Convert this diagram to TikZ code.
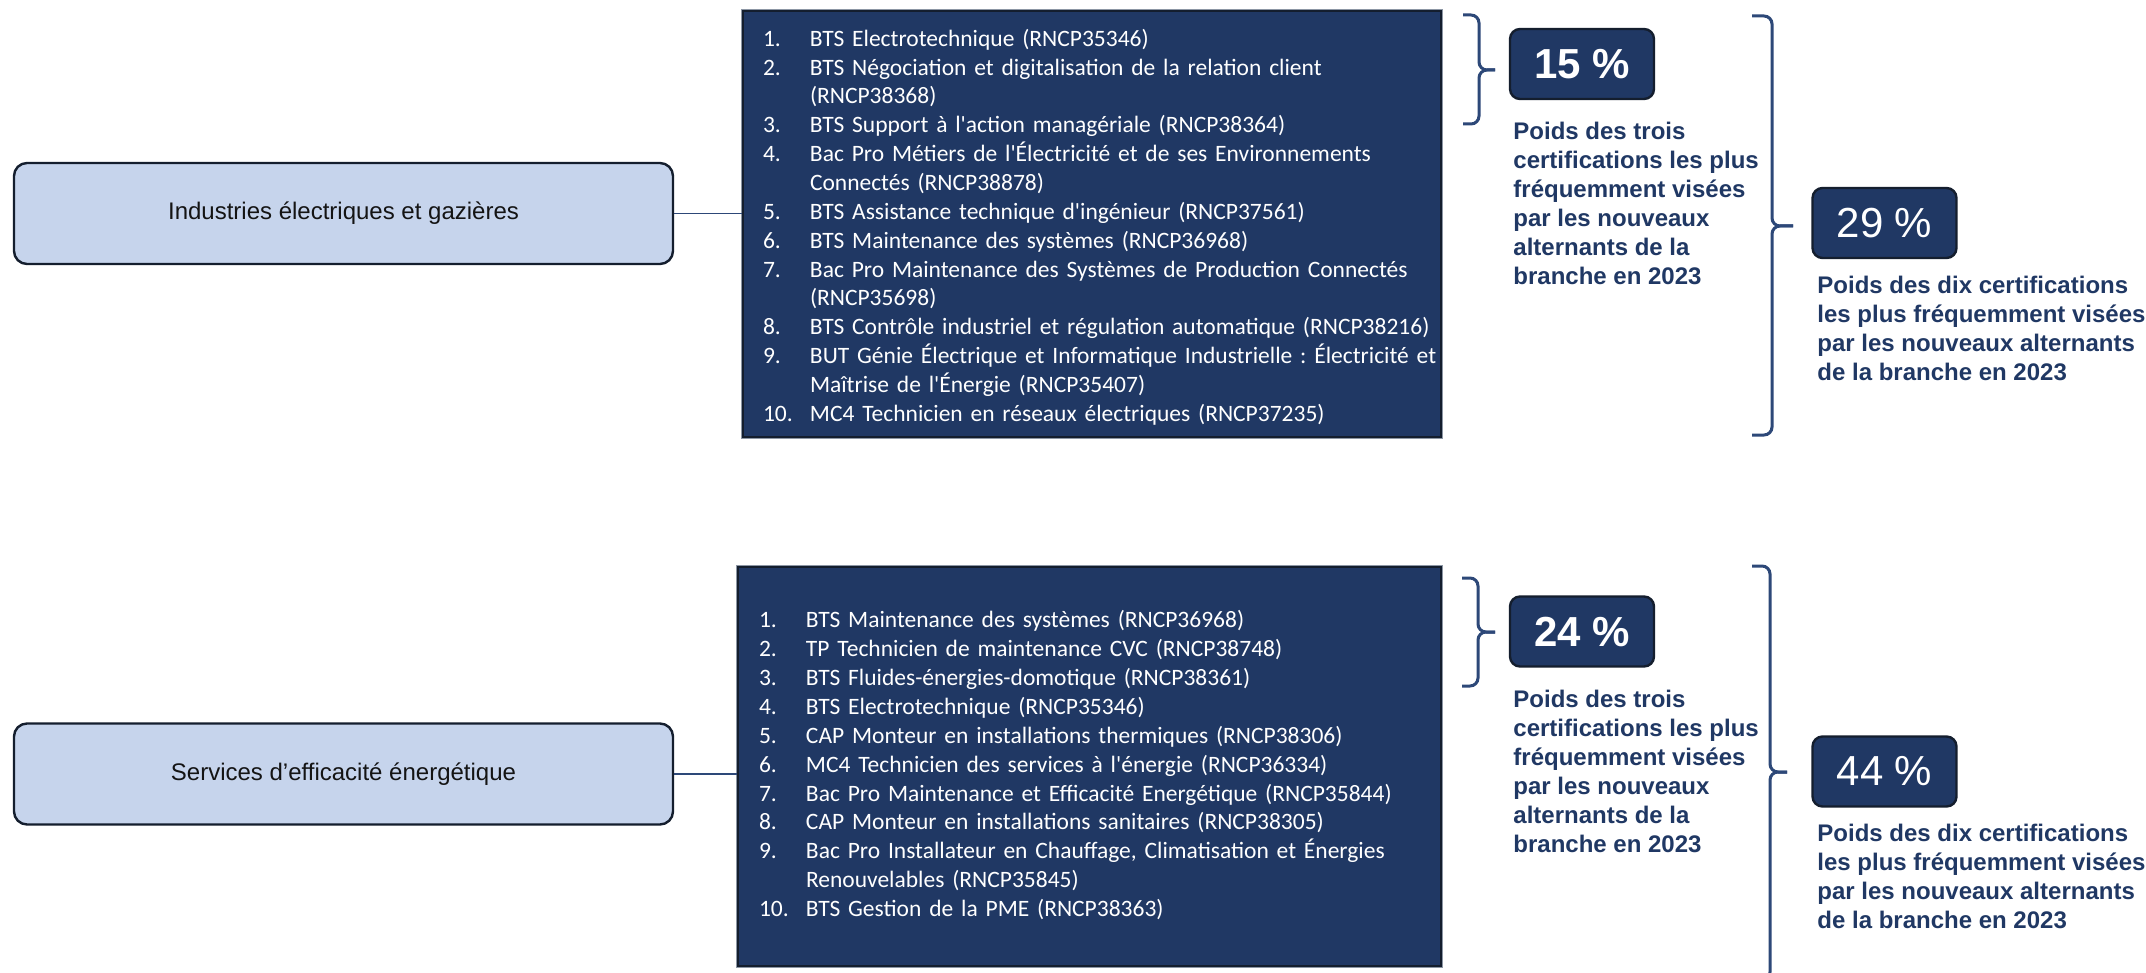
\documentclass[tikz,border=0pt]{standalone}
\usepackage{fontspec}
\setmainfont{Liberation Sans}
\newfontfamily\listfont{Carlito}
\usetikzlibrary{positioning}
\usepackage{xcolor}
\definecolor{enavy}{HTML}{203864}
\definecolor{elight}{HTML}{C6D4EC}
\definecolor{edark}{HTML}{141E2E}
\definecolor{ebrace}{HTML}{2D4878}
\definecolor{etext}{HTML}{141414}
\definecolor{eframe}{HTML}{8C96A4}
\newcommand{\apos}{\textquotesingle}
\frenchspacing

\tikzset{
  sector/.style={rectangle, rounded corners=6.5pt, fill=elight, draw=edark,
    line width=1.2pt, minimum width=329.5pt, minimum height=50.5pt,
    text=etext, font=\fontsize{12}{14}\selectfont},
  certlist/.style={rectangle, fill=enavy, draw=edark, line width=1pt,
    text=white, align=left, font=\listfont\fontsize{11.75}{14.43}\selectfont},
  pctbox/.style={rectangle, rounded corners=5pt, fill=enavy, draw=edark,
    line width=1.2pt, minimum width=72pt, minimum height=35pt, text=white},
  weight/.style={anchor=north west, inner sep=0pt, align=left, text=enavy,
    font=\bfseries\fontsize{12}{14.5}\selectfont},
  link/.style={draw=ebrace, line width=0.6pt},
  bracket/.style={draw=ebrace, line width=1.5pt, rounded corners=4pt},
}

\begin{document}
\begin{tikzpicture}[x=0.5pt, y=-0.5pt]
  \useasboundingbox[fill=white] (0,0) rectangle (2146,973);

  % sectors
  \node[sector] (indus) at (343.5,213.5) {Industries électriques et gazières};
  \node[sector] (serv) at (343.5,774) {Services d’efficacité énergétique};

  % top ten lists
  \draw[eframe, line width=0.5pt] (741.5,9.5) rectangle (1442.5,438.5);
  \node[certlist, minimum width=349pt, minimum height=213pt, inner xsep=10pt,
        text width=329pt] (list1) at (1092,224) {%
    \begin{tabular}{@{}p{23.5pt}@{}l@{}}
    1. & BTS Electrotechnique (RNCP35346)\\
    2. & BTS Négociation et digitalisation de la relation client\\
       & (RNCP38368)\\
    3. & BTS Support à l\apos action managériale (RNCP38364)\\
    4. & Bac Pro Métiers de l\apos Électricité et de ses Environnements\\
       & Connectés (RNCP38878)\\
    5. & BTS Assistance technique d\apos ingénieur (RNCP37561)\\
    6. & BTS Maintenance des systèmes (RNCP36968)\\
    7. & Bac Pro Maintenance des Systèmes de Production Connectés\\
       & (RNCP35698)\\
    8. & BTS Contrôle industriel et régulation automatique (RNCP38216)\\
    9. & BUT Génie Électrique et Informatique Industrielle : Électricité et\\
       & Maîtrise de l\apos Énergie (RNCP35407)\\
    10. & MC4 Technicien en réseaux électriques (RNCP37235)\\[-4pt]
    \end{tabular}};
  \draw[eframe, line width=0.5pt] (736.5,565.5) rectangle (1442.5,967.5);
  \node[certlist, minimum width=351.5pt, minimum height=199.5pt, inner xsep=10.5pt,
        text width=330.5pt] (list2) at (1089.5,766.5) {%
    \begin{tabular}{@{}p{23.5pt}@{}l@{}}
    1. & BTS Maintenance des systèmes (RNCP36968)\\
    2. & TP Technicien de maintenance CVC (RNCP38748)\\
    3. & BTS Fluides-énergies-domotique (RNCP38361)\\
    4. & BTS Electrotechnique (RNCP35346)\\
    5. & CAP Monteur en installations thermiques (RNCP38306)\\
    6. & MC4 Technicien des services à l\apos énergie (RNCP36334)\\
    7. & Bac Pro Maintenance et Efficacité Energétique (RNCP35844)\\
    8. & CAP Monteur en installations sanitaires (RNCP38305)\\
    9. & Bac Pro Installateur en Chauffage, Climatisation et Énergies\\
       & Renouvelables (RNCP35845)\\
    10. & BTS Gestion de la PME (RNCP38363)
    \end{tabular}};

  \draw[link] (indus.east) -- (indus.east -| list1.west);
  \draw[link] (serv.east) -- (serv.east -| list2.west);

  % weights, top
  \node[pctbox, font=\bfseries\fontsize{21}{24}\selectfont] (pct15) at (1582,64) {15 \%};
  \node[weight] (txt15) at (1513,122) {Poids des trois\\certifications les plus\\fréquemment visées\\par les nouveaux\\alternants de la\\branche en 2023};
  \node[pctbox, font=\fontsize{21}{24}\selectfont] (pct29) at (1884.5,223) {29 \%};
  \node[weight] (txt29) at (1817,276) {Poids des dix certifications\\les plus fréquemment visées\\par les nouveaux alternants\\de la branche en 2023};

  % weights, bottom
  \node[pctbox, font=\bfseries\fontsize{21}{24}\selectfont] (pct24) at (1582,631.5) {24 \%};
  \node[weight] (txt24) at (1513,690) {Poids des trois\\certifications les plus\\fréquemment visées\\par les nouveaux\\alternants de la\\branche en 2023};
  \node[pctbox, font=\fontsize{21}{24}\selectfont] (pct44) at (1884.5,771.5) {44 \%};
  \node[weight] (txt44) at (1817,824) {Poids des dix certifications\\les plus fréquemment visées\\par les nouveaux alternants\\de la branche en 2023};

  % braces
  \draw[bracket] (1463,15) -- (1479,15) -- (1479,70) -- (1495,70);
  \draw[bracket] (1463,124) -- (1479,124) -- (1479,70) -- (1495,70);
  \draw[bracket] (1752,16) -- (1772,16) -- (1772,226) -- (1793,226);
  \draw[bracket] (1752,435) -- (1772,435) -- (1772,226) -- (1793,226);
  \draw[bracket] (1462,578) -- (1478,578) -- (1478,632) -- (1495,632);
  \draw[bracket] (1462,686) -- (1478,686) -- (1478,632) -- (1495,632);
  \draw[bracket] (1752,566) -- (1770,566) -- (1770,772) -- (1787,772);
  \draw[bracket] (1752,980) -- (1770,980) -- (1770,772) -- (1787,772);
\end{tikzpicture}
\end{document}
